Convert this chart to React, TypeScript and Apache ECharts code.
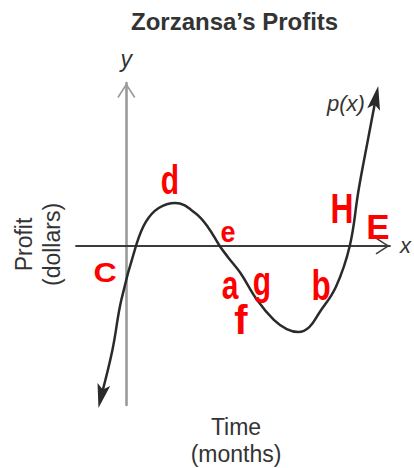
import React, { useEffect, useRef } from 'react';
import * as echarts from 'echarts';

// Curve p(x) (x: months, y: dollars, arbitrary units)
const months = [-1.25, -0.69, -0.25, 0.48, 0.97, 1.61, 2.44, 3.42, 4.05, 4.64, 5.08, 5.67, 6.5, 7.33, 7.97, 8.55, 9.09, 9.58, 10.41, 11.1, 11.54, 12.03, 12.4];
const profits = [-7.56, -5.23, -2.72, 0, 1.21, 1.91, 2.16, 1.66, 0.96, 0, -0.6, -1.36, -2.72, -3.72, -4.18, -4.33, -4.08, -3.37, -2.06, 0, 2.82, 5.48, 7.46];

const titleText = 'Zorzansa’s Profits';
const xAxisName = 'x';
const yAxisName = 'y';
const xTitle = 'Time\n(months)';
const yTitle = 'Profit\n(dollars)';
const curveName = 'p(x)';
const notes = ['d', 'e', 'C', 'a', 'g', 'f', 'b', 'H', 'E'];

// Layout of the handwritten notes (pixels), kept apart from data
const noteLayout = [
  { x: 170, y: 180, size: 40, sx: 0.75 },
  { x: 228, y: 231, size: 30, sx: 0.9 },
  { x: 105, y: 272, size: 28, sx: 1.15 },
  { x: 230, y: 285, size: 40, sx: 0.75 },
  { x: 262, y: 281, size: 40, sx: 0.75 },
  { x: 241, y: 320, size: 40, sx: 1.0 },
  { x: 321, y: 285, size: 42, sx: 0.75 },
  { x: 342, y: 208, size: 43, sx: 0.74 },
  { x: 378, y: 226, size: 35, sx: 1.0 },
];

const FONT = '"Liberation Sans", Arial, Helvetica, sans-serif';
const chevron = 'path://M9,0 L18,14 L16.65,14.87 L9,2.96 L1.35,14.87 L0,14 Z';
const arrowHead = 'path://M6,0 L12,24 L6,19 L0,24 Z';

function buildOption() {
  const last = months.length - 1;
  const data = months.map((m, i) => {
    const item: any = { value: [m, profits[i]] };
    if (i === 0 || i === last) {
      item.symbol = arrowHead;
      item.symbolSize = [13, 24];
      item.symbolRotate = i === 0 ? 167 : -11;
    }
    return item;
  });

  const graphic: any[] = [
    {
      type: 'text',
      x: 236,
      y: 413,
      z: 50,
      style: {
        text: xTitle,
        fill: '#333',
        fontSize: 23,
        fontFamily: FONT,
        lineHeight: 27,
        align: 'center',
        textAlign: 'center',
        verticalAlign: 'top',
        textVerticalAlign: 'top',
      },
    },
    {
      type: 'text',
      x: 38,
      y: 244.5,
      rotation: Math.PI / 2,
      z: 50,
      style: {
        text: yTitle,
        fill: '#333',
        fontSize: 23,
        fontFamily: FONT,
        lineHeight: 28,
        align: 'center',
        textAlign: 'center',
        verticalAlign: 'middle',
        textVerticalAlign: 'middle',
      },
    },
    {
      type: 'text',
      x: 327,
      y: 103,
      z: 50,
      style: {
        text: curveName,
        fill: '#333',
        fontSize: 22,
        fontStyle: 'italic',
        fontFamily: FONT,
        align: 'left',
        textAlign: 'left',
        verticalAlign: 'middle',
        textVerticalAlign: 'middle',
      },
    },
  ];

  notes.forEach((t, i) => {
    const l = noteLayout[i];
    graphic.push({
      type: 'text',
      x: l.x,
      y: l.y,
      scaleX: l.sx,
      z: 100,
      style: {
        text: t,
        fill: '#ff0000',
        fontSize: l.size,
        fontWeight: 'bold',
        fontFamily: FONT,
        align: 'center',
        textAlign: 'center',
        verticalAlign: 'middle',
        textVerticalAlign: 'middle',
      },
    });
  });

  return {
    animation: false,
    backgroundColor: '#ffffff',
    textStyle: { fontFamily: FONT },
    title: {
      text: titleText,
      left: 131,
      top: 9,
      padding: 0,
      textStyle: { fontSize: 24, fontWeight: 'bold', color: '#333', fontFamily: FONT },
    },
    grid: { left: 76, top: 83, width: 319, height: 322, containLabel: false },
    xAxis: {
      type: 'value',
      min: -2.5,
      max: 13.1,
      name: xAxisName,
      nameLocation: 'end',
      nameGap: 10,
      nameTextStyle: { fontSize: 22, fontStyle: 'italic', color: '#333', fontFamily: FONT },
      axisLine: {
        onZero: true,
        lineStyle: { color: '#3c3c3c', width: 1.8 },
        symbol: ['none', chevron],
        symbolSize: [17, 15],
        symbolOffset: [0, -7.4],
      },
      axisTick: { show: false },
      axisLabel: { show: false },
      splitLine: { show: false },
    },
    yAxis: {
      type: 'value',
      min: -8,
      max: 8.2,
      name: yAxisName,
      nameLocation: 'end',
      nameGap: 13,
      nameTextStyle: { fontSize: 23, fontStyle: 'italic', color: '#333', fontFamily: FONT },
      axisLine: {
        onZero: true,
        lineStyle: { color: '#9a9a9a', width: 2.6 },
        symbol: ['none', chevron],
        symbolSize: [20, 15],
        symbolOffset: [0, -7.4],
      },
      axisTick: { show: false },
      axisLabel: { show: false },
      splitLine: { show: false },
    },
    series: [
      {
        type: 'line',
        name: curveName,
        data,
        smooth: 0.4,
        symbol: 'none',
        showSymbol: true,
        clip: false,
        z: 5,
        lineStyle: { color: '#2a2a2a', width: 2.5 },
        itemStyle: { color: '#2a2a2a' },
      },
    ],
    graphic,
  };
}

export default function App() {
  const ref = useRef<HTMLDivElement>(null);
  useEffect(() => {
    if (!ref.current) return;
    const chart = echarts.init(ref.current, null, { renderer: 'svg', width: 414, height: 468 });
    chart.setOption(buildOption() as any);
    return () => {
      chart.dispose();
    };
  }, []);
  return (
    <div
      ref={ref}
      style={{ position: 'fixed', left: 0, top: 0, width: 414, height: 468, background: '#fff' }}
    />
  );
}
